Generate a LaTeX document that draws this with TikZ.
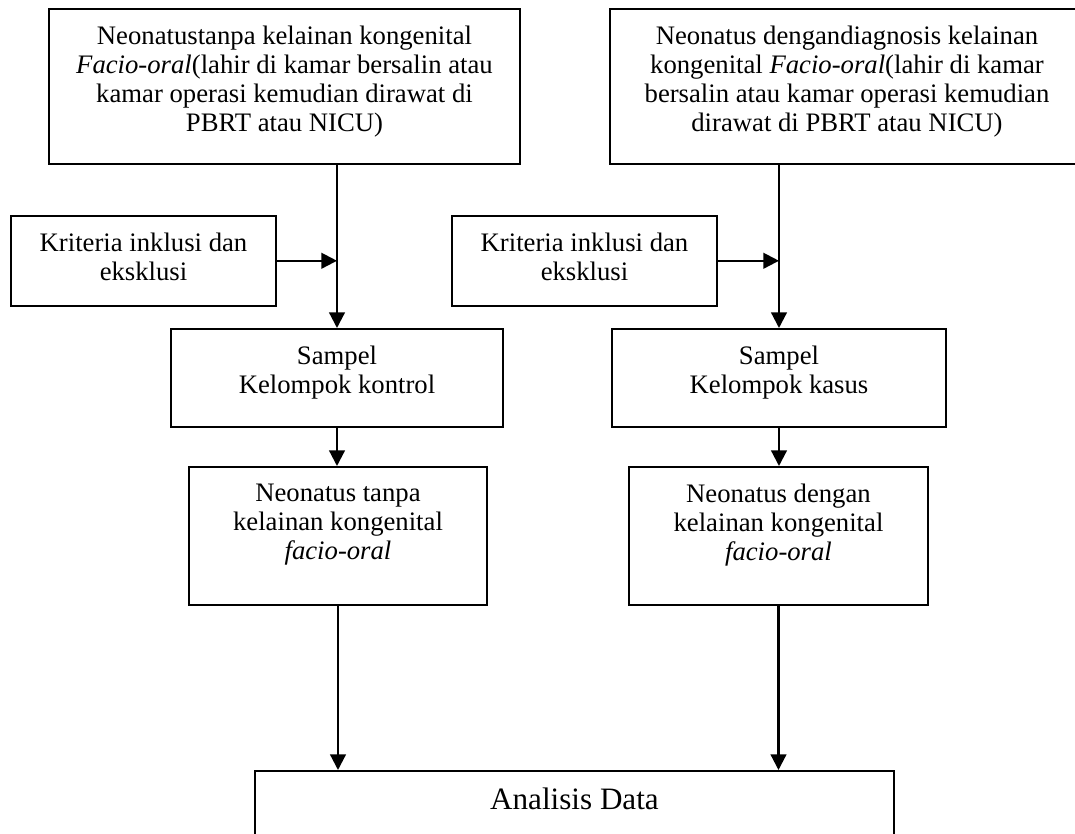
\documentclass[tikz,border=0pt]{standalone}
\usepackage{fontspec}
\setmainfont{Liberation Serif}
\usepackage{tikz}
\usetikzlibrary{arrows.meta}

\newlength{\px}
\setlength{\px}{0.158mm}
% isi kotak: lebar, tinggi, teks (rata atas)
\newcommand{\isi}[3]{\parbox[t][#2\px][t]{#1\px}{\centering\vspace*{17\px}#3}}

\begin{document}
\begin{tikzpicture}[x=0.158mm, y=-0.158mm,
  kotak/.style={draw, line width=0.7pt, anchor=north, inner sep=0pt, font=\fontsize{12}{13}\selectfont},
  panah/.style={line width=1pt, -{Triangle[length=7pt, width=7pt]}}]

\useasboundingbox (0,0) rectangle (1075,834);

% kolom kiri: kelompok kontrol
\node[kotak] (atasKiri) at (284.5,8) {\isi{471}{155}{Neonatustanpa kelainan kongenital\\ \textit{Facio-oral}(lahir di kamar bersalin atau\\ kamar operasi kemudian dirawat di\\ PBRT atau NICU)}};
\node[kotak] (kriteriaKiri) at (143.5,215) {\isi{265}{90}{Kriteria inklusi dan\\ eksklusi}};
\node[kotak] (sampelKiri) at (337,328) {\isi{332}{98}{Sampel\\ Kelompok kontrol}};
\node[kotak] (neoKiri) at (338,466) {\isi{298}{138}{Neonatus tanpa\\ kelainan kongenital\\ \textit{facio-oral}}};

% kolom kanan: kelompok kasus
\node[kotak] (atasKanan) at (847,8) {\isi{474}{155}{Neonatus dengandiagnosis kelainan\\ kongenital \textit{Facio-oral}(lahir di kamar\\ bersalin atau kamar operasi kemudian\\ dirawat di PBRT atau NICU)}};
\node[kotak] (kriteriaKanan) at (584.5,215) {\isi{265}{90}{Kriteria inklusi dan\\ eksklusi}};
\node[kotak] (sampelKanan) at (779,328) {\isi{334}{98}{Sampel\\ Kelompok kasus}};
\node[kotak] (neoKanan) at (778.5,466) {\isi{299}{138}{Neonatus dengan\\ kelainan kongenital\\ \textit{facio-oral}}};

% analisis
\node[kotak] (analisis) at (574.5,770) {\isi{639}{80}{\fontsize{14}{16}\selectfont Analisis Data}};

% panah
\draw[panah] (sampelKiri.north |- atasKiri.south) -- (sampelKiri.north);
\draw[panah] (kriteriaKiri.east) -- (kriteriaKiri.east -| sampelKiri.north);
\draw[panah] (sampelKiri.south) -- (sampelKiri.south |- neoKiri.north);
\draw[panah] (neoKiri.south) -- (neoKiri.south |- analisis.north);

\draw[panah] (sampelKanan.north |- atasKanan.south) -- (sampelKanan.north);
\draw[panah] (kriteriaKanan.east) -- (kriteriaKanan.east -| sampelKanan.north);
\draw[panah] (sampelKanan.south) -- (sampelKanan.south |- neoKanan.north);
\draw[panah] (neoKanan.south) -- (neoKanan.south |- analisis.north);

\end{tikzpicture}
\end{document}
